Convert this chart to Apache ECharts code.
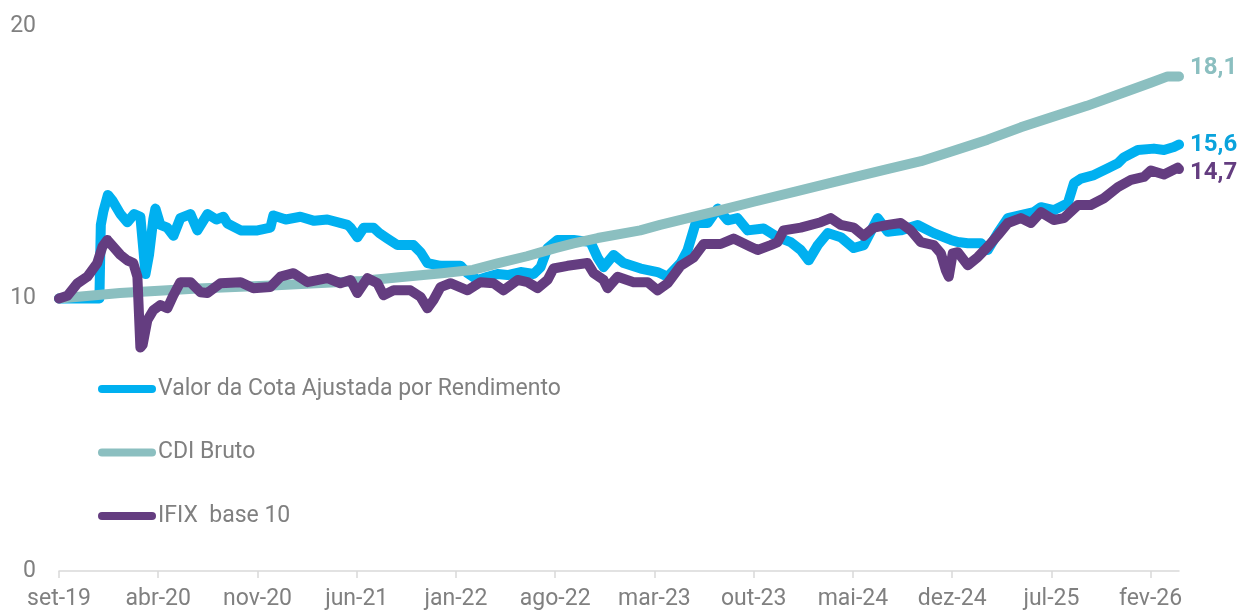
<!DOCTYPE html>
<html>
<head>
<meta charset="utf-8">
<script src="https://cdn.jsdelivr.net/npm/echarts@6/dist/echarts.min.js"></script>
<style>
  html, body { margin: 0; padding: 0; background: #fff; }
  #main { width: 1246px; height: 610px; }
</style>
</head>
<body>
<div id="main"></div>
<script>
// months counted from set-19, one tick label every 7 months
const tickLabels = ['set-19', 'abr-20', 'nov-20', 'jun-21', 'jan-22', 'ago-22', 'mar-23', 'out-23', 'mai-24', 'dez-24', 'jul-25', 'fev-26'];
const seriesNames = ['Valor da Cota Ajustada por Rendimento', 'CDI Bruto', 'IFIX  base 10'];
const endLabels = ['15,6', '18,1', '14,7'];

// [month, value]
const cota = [
  [0, 10.0], [2.85, 10.0], [2.95, 12.7], [3.13, 13.2], [3.45, 13.8], [3.76, 13.6], [4.33, 13.1], [4.82, 12.8],
  [5.3, 13.1], [5.74, 13.0], [5.95, 11.8], [6.1, 10.9], [6.35, 11.6], [6.65, 12.9], [6.8, 13.3], [7.15, 12.7],
  [7.64, 12.6], [8.07, 12.3], [8.56, 12.95], [9.27, 13.1], [9.76, 12.5], [10.47, 13.1], [11.1, 12.9], [11.6, 13.0],
  [11.88, 12.75], [12.82, 12.5], [14.0, 12.5], [14.91, 12.6], [15.12, 13.05], [16.0, 12.9], [17.03, 13.0], [18.0, 12.85],
  [18.93, 12.9], [20.35, 12.7], [20.56, 12.6], [21.05, 12.25], [21.5, 12.6], [22.18, 12.6], [22.6, 12.4], [23.17, 12.2],
  [23.88, 11.96], [25.0, 11.96], [25.5, 11.7], [25.99, 11.3], [26.91, 11.2], [28.32, 11.2], [28.82, 10.93], [29.52, 10.68],
  [30.23, 10.8], [30.93, 10.9], [31.64, 10.86], [32.56, 10.97], [33.48, 10.9], [33.97, 11.15], [34.46, 11.85], [35.17, 12.15],
  [36.3, 12.15], [37.49, 12.07], [37.99, 11.5], [38.41, 11.15], [39.12, 11.6], [39.83, 11.3], [41.03, 11.1], [42.22, 10.97],
  [42.93, 10.8], [43.85, 11.3], [44.34, 11.78], [44.91, 12.77], [45.75, 12.77], [46.46, 13.3], [47.16, 12.87], [47.86, 12.95],
  [48.57, 12.5], [49.7, 12.57], [50.69, 12.25], [51.61, 12.07], [52.32, 11.78], [52.88, 11.4], [53.52, 11.96], [54.22, 12.4],
  [55.14, 12.25], [56.06, 11.85], [56.76, 11.96], [57.75, 12.95], [58.46, 12.45], [59.37, 12.5], [60.57, 12.7], [61.7, 12.4],
  [62.41, 12.25], [62.9, 12.15], [63.4, 12.07], [64.1, 12.03], [65.02, 12.03], [65.51, 11.78], [66.22, 12.4], [66.93, 12.95],
  [67.84, 13.06], [68.76, 13.17], [69.26, 13.35], [70.17, 13.24], [71.16, 13.5], [71.59, 14.23], [72.08, 14.4], [73.0, 14.53],
  [73.98, 14.78], [74.69, 14.96], [75.11, 15.18], [76.1, 15.45], [77.23, 15.5], [77.94, 15.45], [78.64, 15.56], [79, 15.65]
];

const cdi = [
  [0, 10.0], [4.3, 10.2], [9.8, 10.37], [15, 10.48], [21.3, 10.64], [24, 10.78], [27, 10.93], [29.2, 11.05],
  [31, 11.3], [33, 11.55], [35, 11.85], [36.3, 12.02], [38, 12.22], [41, 12.5], [42.4, 12.7], [44.5, 12.97],
  [46.67, 13.24], [49, 13.55], [52, 13.93], [54.5, 14.25], [56.6, 14.52], [58.5, 14.76], [60.8, 15.04], [63, 15.4],
  [65.5, 15.83], [67.84, 16.28], [70, 16.65], [72.5, 17.07], [75.1, 17.56], [77, 17.92], [78.2, 18.15], [79, 18.15]
];

const ifix = [
  [0, 10.0], [0.59, 10.1], [1.29, 10.55], [2.0, 10.8], [2.7, 11.3], [3.06, 11.9], [3.41, 12.15], [4.33, 11.6],
  [4.82, 11.4], [5.24, 11.3], [5.53, 10.8], [5.74, 8.2], [5.9, 8.3], [6.23, 9.2], [6.65, 9.57], [7.15, 9.76],
  [7.64, 9.64], [8.07, 10.12], [8.56, 10.6], [9.27, 10.6], [9.98, 10.23], [10.47, 10.2], [11.39, 10.56], [12.82, 10.6],
  [13.71, 10.38], [14.91, 10.42], [15.62, 10.8], [16.54, 10.93], [17.52, 10.6], [18.93, 10.75], [19.85, 10.56], [20.56, 10.68],
  [21.05, 10.2], [21.76, 10.75], [22.46, 10.56], [22.89, 10.12], [23.6, 10.3], [24.79, 10.3], [25.5, 10.06], [25.99, 9.64],
  [26.41, 9.94], [26.91, 10.42], [27.61, 10.56], [28.82, 10.3], [29.73, 10.6], [30.65, 10.56], [31.36, 10.3], [32.35, 10.68],
  [33.05, 10.6], [33.76, 10.38], [34.46, 10.68], [34.88, 11.1], [35.87, 11.2], [37.28, 11.3], [37.71, 10.93], [38.41, 10.68],
  [38.69, 10.38], [39.4, 10.8], [40.53, 10.6], [41.52, 10.6], [42.22, 10.3], [42.93, 10.56], [43.85, 11.2], [44.76, 11.5],
  [45.47, 12.0], [46.67, 12.0], [47.58, 12.2], [48.78, 11.9], [49.28, 11.78], [50.2, 11.96], [50.69, 12.07], [51.11, 12.5],
  [52.32, 12.6], [53.73, 12.8], [54.43, 12.95], [55.14, 12.7], [56.06, 12.6], [56.76, 12.3], [57.47, 12.6], [58.46, 12.7],
  [59.37, 12.77], [60.08, 12.5], [60.78, 12.07], [61.7, 11.96], [62.2, 11.66], [62.55, 11.04], [62.76, 10.8], [63.04, 11.66],
  [63.4, 11.7], [64.1, 11.22], [64.81, 11.52], [65.51, 11.9], [66.22, 12.32], [66.93, 12.77], [67.84, 12.95], [68.55, 12.77],
  [69.26, 13.17], [70.17, 12.88], [70.88, 12.95], [71.87, 13.43], [72.78, 13.43], [73.7, 13.68], [74.69, 14.09], [75.61, 14.35],
  [76.52, 14.46], [77.02, 14.7], [77.94, 14.55], [78.9, 14.8], [79, 14.75]
];

const lineColors = ['#00b0f0', '#8bbfc0', '#643d80'];
const labelColors = ['#0aa3dc', '#8bbfc0', '#643d80'];
const labelOffsets = [[0, 0], [0, -8], [0, 4]];
const font = 'Roboto, "Noto Sans", sans-serif';

const chart = echarts.init(document.getElementById('main'));

const makeSeries = (data, idx) => ({
  name: seriesNames[idx],
  type: 'line',
  data: data,
  symbol: 'none',
  showSymbol: false,
  lineStyle: { color: lineColors[idx], width: 10, cap: 'round', join: 'round' },
  itemStyle: { color: lineColors[idx] },
  endLabel: {
    show: true,
    distance: 11,
    offset: labelOffsets[idx],
    formatter: () => endLabels[idx],
    color: labelColors[idx],
    fontFamily: font,
    fontWeight: 'bold',
    fontSize: 24
  },
  emphasis: { disabled: true }
});

const tickValues = tickLabels.map((t, i) => i * 7);

chart.setOption({
  animation: false,
  backgroundColor: '#ffffff',
  grid: { left: 59, right: 67, top: 26, bottom: 39, containLabel: false, outerBoundsMode: 'none' },
  legend: {
    orient: 'vertical',
    left: 93,
    top: 372,
    padding: 5,
    itemWidth: 58,
    itemHeight: 8,
    itemGap: 39.5,
    icon: 'path://M4,0H54A4,4,0,0,1,54,8H4A4,4,0,0,1,4,0Z',
    itemStyle: { borderWidth: 0 },
    textStyle: { color: '#808080', fontSize: 23, fontFamily: font, lineHeight: 24, padding: [0, 0, 0, -3] },
    data: seriesNames
  },
  xAxis: {
    type: 'value',
    min: 0,
    max: 79,
    interval: 7,
    splitLine: { show: false },
    axisLine: { show: true, lineStyle: { color: '#d9d9d9', width: 1.5 } },
    axisTick: { show: true, length: 7, customValues: tickValues, lineStyle: { color: '#d9d9d9', width: 1.5 } },
    axisLabel: {
      customValues: tickValues,
      margin: 17,
      color: '#808080',
      fontSize: 23,
      fontFamily: font,
      formatter: v => (v % 7 === 0 ? tickLabels[v / 7] || '' : '')
    }
  },
  yAxis: {
    type: 'value',
    min: 0,
    max: 20,
    interval: 10,
    splitLine: { show: false },
    axisLine: { show: false },
    axisTick: { show: false },
    axisLabel: { margin: 23, color: '#808080', fontSize: 23, fontFamily: font }
  },
  series: [makeSeries(cota, 0), makeSeries(cdi, 1), makeSeries(ifix, 2)]
});
</script>
</body>
</html>
